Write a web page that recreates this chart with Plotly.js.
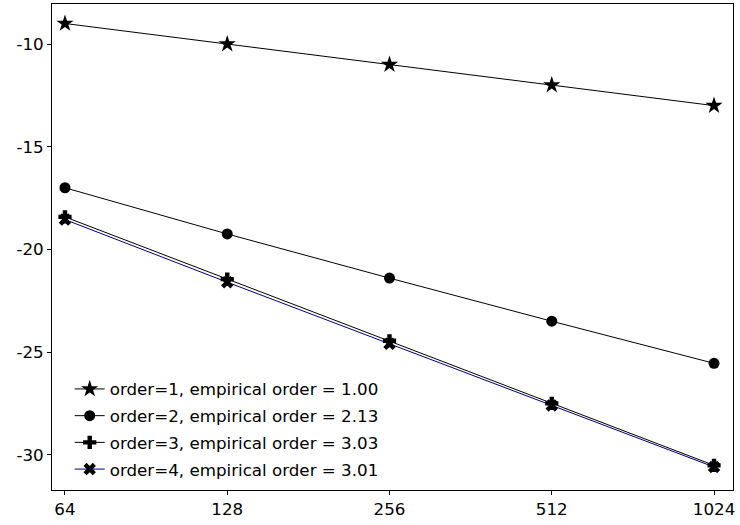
<!DOCTYPE html>
<html><head><meta charset="utf-8">
<script src="https://cdn.plot.ly/plotly-3.0.1.min.js"></script>
<style>html,body{margin:0;padding:0;background:#fff}#c{width:740px;height:525px}</style>
</head><body><div id="c"></div>
<script>
const N = [64, 128, 256, 512, 1024];
const xTickText = ["64", "128", "256", "512", "1024"];
const yTickVals = [-10, -15, -20, -25, -30];
const yTickText = ["-10", "-15", "-20", "-25", "-30"];
const order1 = [-9.0, -10.0, -11.0, -12.0, -13.0];
const order2 = [-17.0, -19.25, -21.4, -23.5, -25.55];
const order3 = [-18.42, -21.45, -24.45, -27.5, -30.52];
const order4 = [-18.55, -21.6, -24.6, -27.6, -30.6];
const names = ["order=1, empirical order = 1.00", "order=2, empirical order = 2.13",
               "order=3, empirical order = 3.03", "order=4, empirical order = 3.01"];

const mk = (y, name, sym, size, lc, g) => ({
  x: N, y: y, name: name, type: 'scatter', mode: 'lines+markers', legendgroup: g,
  line: {color: lc, width: 1},
  marker: {symbol: sym, size: size, color: '#000', line: {width: 0}}
});
const data = [
  mk(order1, names[0], 'star', 13, '#000', 'a'),
  mk(order2, names[1], 'circle', 11, '#000', 'b'),
  mk(order3, names[2], 'cross', 11, '#000', 'c'),
  mk(order4, names[3], 'x', 11, '#000080', 'd')
];
const layout = {
  width: 740, height: 525,
  margin: {l: 52, r: 7, t: 4, b: 35},
  paper_bgcolor: '#fff', plot_bgcolor: '#fff',
  font: {family: 'DejaVu Sans', size: 16.7, color: '#000'},
  showlegend: true,
  legend: {x: 0.026, y: 0.007, xanchor: 'left', yanchor: 'bottom', bgcolor: 'rgba(255,255,255,0.8)',
           borderwidth: 0, font: {size: 16.7}, tracegroupgap: 2, itemwidth: 30},
  xaxis: {type: 'log', range: [1.7821, 3.0455], tickvals: N, ticktext: xTickText,
          showgrid: false, zeroline: false, showline: true, mirror: true, linecolor: '#000', linewidth: 1,
          ticks: 'outside', ticklen: 4, tickcolor: '#000'},
  yaxis: {range: [-31.72, -8.05], tickvals: yTickVals, ticktext: yTickText,
          showgrid: false, zeroline: false, showline: true, mirror: true, linecolor: '#000', linewidth: 1,
          ticks: 'outside', ticklen: 4, tickcolor: '#000'}
};
Plotly.newPlot('c', data, layout, {displayModeBar: false, staticPlot: true});
</script></body></html>
